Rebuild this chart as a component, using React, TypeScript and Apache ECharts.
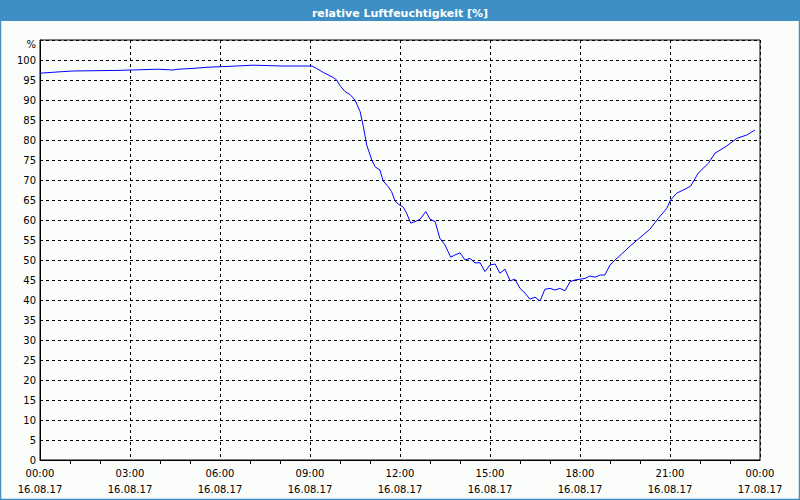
import React, { useEffect, useRef } from "react";
import * as echarts from "echarts";

const hours = [
  0, 0.757, 1.1, 2.6, 3.93, 4.43, 4.6, 5.1, 5.6, 6.27, 7.1, 8.1, 9.06, 9.22,
  9.44, 9.78, 9.89, 10.0, 10.17, 10.33, 10.5, 10.67, 10.78, 10.89, 11.06, 11.17, 11.33, 11.44,
  11.61, 11.72, 11.83, 11.94, 12.11, 12.22, 12.36, 12.5, 12.67, 12.86, 13.0, 13.17, 13.33, 13.5,
  13.69, 13.83, 14.0, 14.17, 14.33, 14.5, 14.67, 14.83, 15.0, 15.17, 15.33, 15.5, 15.67, 15.83,
  16.0, 16.17, 16.33, 16.5, 16.67, 16.83, 17.0, 17.17, 17.33, 17.5, 17.67, 17.83, 18.0, 18.17,
  18.33, 18.5, 18.67, 18.83, 19.0, 19.17, 19.39, 19.67, 19.94, 20.33, 20.61, 20.89, 21.02, 21.22,
  21.5, 21.69, 21.94, 22.28, 22.5, 22.89, 23.22, 23.56, 23.83,
];

const humidity = [
  96.7, 97.1, 97.25, 97.4, 97.7, 97.5, 97.7, 97.9, 98.2, 98.4, 98.7, 98.5, 98.5, 97.9,
  96.9, 95.6, 95.0, 93.6, 92.1, 91.4, 90.0, 87.1, 83.3, 78.75, 75.0, 73.3, 72.5, 69.75,
  68.3, 67.1, 64.8, 64.0, 63.2, 61.7, 59.2, 59.6, 60.2, 62.1, 60.2, 59.6, 55.4, 53.75,
  50.7, 51.25, 51.8, 50.0, 50.4, 49.3, 49.3, 47.1, 48.75, 49.0, 46.7, 47.7, 44.8, 45.2,
  42.9, 41.7, 40.2, 40.7, 39.75, 42.7, 42.9, 42.5, 42.9, 42.3, 44.6, 45.0, 45.2, 45.4,
  46.0, 45.7, 46.25, 46.25, 48.75, 50.0, 51.5, 53.5, 55.2, 57.7, 60.4, 62.9, 65.0, 66.7,
  67.7, 68.5, 71.7, 74.2, 76.7, 78.5, 80.4, 81.25, 82.5,
];

const xTicks = [0, 3, 6, 9, 12, 15, 18, 21, 24];
const xTimeLabels = ["00:00", "03:00", "06:00", "09:00", "12:00", "15:00", "18:00", "21:00", "00:00"];
const xDateLabels = ["16.08.17", "16.08.17", "16.08.17", "16.08.17", "16.08.17", "16.08.17", "16.08.17", "16.08.17", "17.08.17"];

const titleText = "relative Luftfeuchtigkeit [%]";
const unitText = "%";

export default function App() {
  const ref = useRef<HTMLDivElement>(null);

  useEffect(() => {
    if (!ref.current) return;
    const chart = echarts.init(ref.current, null, { renderer: "svg" });
    const font = "DejaVu Sans";
    const data = hours.map((h, i) => [h, humidity[i]]);
    chart.setOption({
      animation: false,
      backgroundColor: "#fbfdfb",
      textStyle: { fontFamily: font },
      title: {
        text: titleText,
        left: "center",
        top: 3,
        textStyle: { color: "#ffffff", fontSize: 11, fontWeight: "bold", fontFamily: font },
      },
      graphic: [
        { type: "rect", shape: { x: 0, y: 0, width: 800, height: 21 }, style: { fill: "#3d8fc6" }, z: -1 },
        {
          type: "rect",
          shape: { x: 0.5, y: 0.5, width: 799, height: 499 },
          style: { fill: "none", stroke: "#3d8fc6", lineWidth: 1.5 },
          z: 100,
        },
        {
          type: "text",
          x: 36,
          y: 44,
          style: { text: unitText, fill: "#000", font: `10px ${font}`, align: "right", verticalAlign: "middle" },
        },
      ],
      grid: { left: 40, right: 40, top: 40, bottom: 40, show: true, borderColor: "#000", borderWidth: 1 },
      xAxis: {
        type: "value",
        min: 0,
        max: 24,
        interval: 3,
        axisLine: { show: true, lineStyle: { color: "#000" } },
        axisTick: { show: false },
        minorTick: { show: true, splitNumber: 3, length: 4, lineStyle: { color: "#000" } },
        splitLine: { show: true, lineStyle: { color: "#000", type: [3, 3] } },
        axisLabel: {
          color: "#000",
          fontSize: 10,
          fontFamily: font,
          margin: 5,
          lineHeight: 16,
          showMaxLabel: true,
          formatter: (v: number) => {
            const i = xTicks.indexOf(v);
            return i >= 0 ? `${xTimeLabels[i]}\n${xDateLabels[i]}` : "";
          },
        },
      },
      yAxis: {
        type: "value",
        min: 0,
        max: 105,
        interval: 5,
        axisLine: { show: true, lineStyle: { color: "#000" } },
        axisTick: { show: false },
        splitLine: { show: true, lineStyle: { color: "#000", type: [3, 3] } },
        axisLabel: {
          color: "#000",
          fontSize: 10,
          fontFamily: font,
          margin: 4,
          formatter: (v: number) => (v > 100 ? "" : String(v)),
        },
      },
      series: [
        {
          type: "line",
          data,
          showSymbol: false,
          lineStyle: { color: "#0000ff", width: 1 },
          z: 5,
        },
      ],
    });
    return () => chart.dispose();
  }, []);

  return <div ref={ref} style={{ position: "fixed", left: 0, top: 0, width: 800, height: 500 }} />;
}
